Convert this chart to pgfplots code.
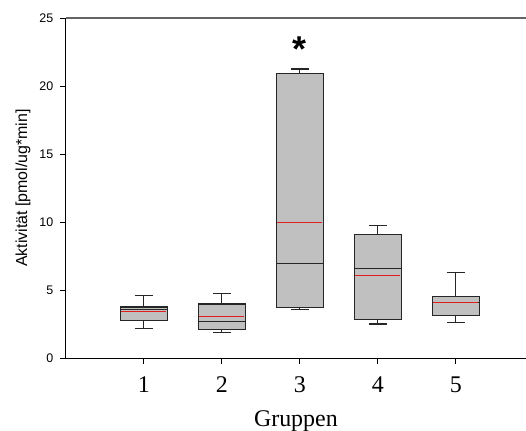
\documentclass[border=0pt]{standalone}
\usepackage{fontspec}
\setmainfont{Liberation Serif}
\newfontfamily\arialf{Liberation Sans}
\usepackage{pgfplots}
\pgfplotsset{compat=1.18}
\usepgfplotslibrary{statistics}
\definecolor{boxgray}{RGB}{192,192,192}
\definecolor{medred}{RGB}{225,30,30}
\definecolor{topgray}{RGB}{100,100,100}
\begin{document}
\begin{tikzpicture}
\begin{axis}[
  name=ax,
  scale only axis,
  width=460bp, height=340bp,
  xmin=0, xmax=5.9,
  ymin=0, ymax=25,
  clip=false,
  axis x line*=bottom,
  axis y line*=left,
  axis line style={black, line width=1.1pt, -},
  xtick={1,2,3,4,5},
  xticklabels={1,2,3,4,5},
  ytick={0,5,10,15,20,25},
  tick align=outside,
  major tick length=6bp,
  tick style={black, line width=0.9pt},
  xticklabel style={font=\fontsize{24}{26}\selectfont, yshift=-9bp},
  yticklabel style={font=\arialf\fontsize{12.5}{15}\selectfont, xshift=-3bp},
  /pgf/number format/assume math mode=true,
  xlabel={Gruppen},
  xlabel style={font=\fontsize{24}{26}\selectfont, yshift=-11bp},
  ylabel={Aktivität [pmol/ug*min]},
  ylabel style={font=\arialf\fontsize{16}{17}\selectfont, yshift=2bp},
  boxplot/draw direction=y,
  boxplot/box extend=0.6,
  boxplot/whisker extend=0.23,
  boxplot/every box/.style={draw=black!85, line width=1.2pt, fill=boxgray},
  boxplot/every whisker/.style={draw=black!85, line width=1.2pt},
  boxplot/every median/.style={draw=black!85, line width=1.2pt},
]
\draw[topgray, line width=1.5pt] (rel axis cs:0,1) -- (rel axis cs:1,1);
\addplot[black, mark=none, boxplot prepared={lower whisker=2.18, lower quartile=2.77, median=3.58, upper quartile=3.77, upper whisker=4.63, draw position=1}] coordinates {};
\addplot[black, mark=none, boxplot prepared={lower whisker=1.86, lower quartile=2.08, median=2.72, upper quartile=3.99, upper whisker=4.73, draw position=2}] coordinates {};
\addplot[black, mark=none, boxplot prepared={lower whisker=3.55, lower quartile=3.70, median=6.94, upper quartile=20.93, upper whisker=21.25, draw position=3}] coordinates {};
\addplot[black, mark=none, boxplot prepared={lower whisker=2.52, lower quartile=2.87, median=6.57, upper quartile=9.12, upper whisker=9.73, draw position=4}] coordinates {};
\addplot[black, mark=none, boxplot prepared={lower whisker=2.60, lower quartile=3.11, median=4.12, upper quartile=4.56, upper whisker=6.32, draw position=5}] coordinates {};
\addplot[medred, line width=1.1pt, mark=none] coordinates {(0.71,3.40) (1.29,3.40)};
\addplot[medred, line width=1.1pt, mark=none] coordinates {(1.71,3.04) (2.29,3.04)};
\addplot[medred, line width=1.1pt, mark=none] coordinates {(2.71,9.97) (3.29,9.97)};
\addplot[medred, line width=1.1pt, mark=none] coordinates {(3.71,6.10) (4.29,6.10)};
\addplot[medred, line width=1.1pt, mark=none] coordinates {(4.71,4.10) (5.29,4.10)};
\node[anchor=north, inner sep=0pt, font=\arialf\bfseries\fontsize{36}{36}\selectfont] at (axis cs:3,23.6) {*};
\end{axis}
\pgfresetboundingbox
\path ([xshift=-65.7bp, yshift=-72bp]ax.south west) rectangle ([yshift=18bp]ax.north east);
\end{tikzpicture}
\end{document}
